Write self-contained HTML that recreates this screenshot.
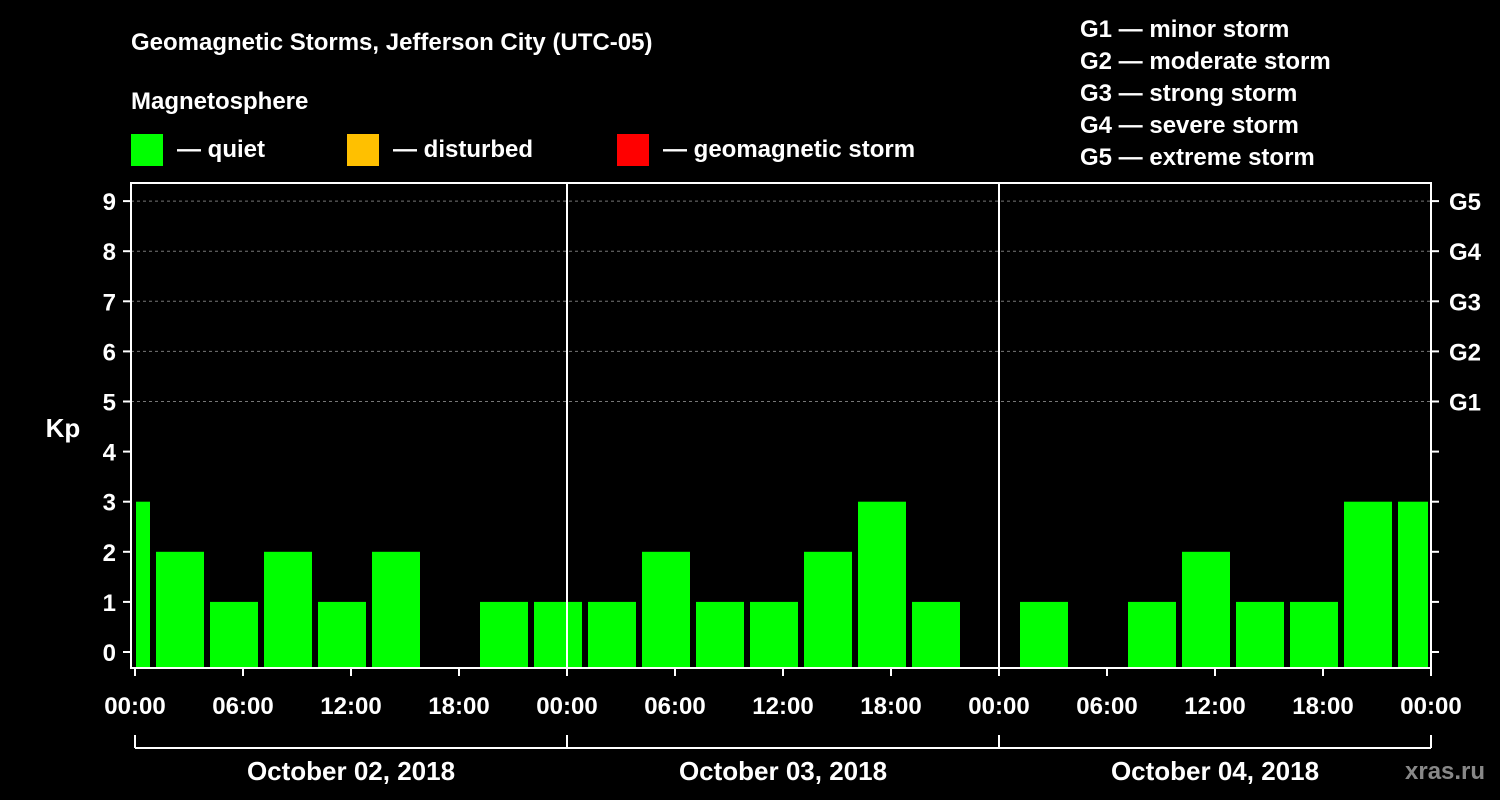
<!DOCTYPE html>
<html><head><meta charset="utf-8"><style>
body{margin:0;background:#000;}
svg{display:block;font-family:"Liberation Sans",Arial,sans-serif;font-weight:bold;}
</style></head><body>
<svg id="chart" width="1500" height="800" viewBox="0 0 1500 800">
<rect width="1500" height="800" fill="#000"/>
<text x="131" y="50" fill="#fff" font-size="24">Geomagnetic Storms, Jefferson City (UTC-05)</text>
<text x="131" y="109" fill="#fff" font-size="24">Magnetosphere</text>
<g><rect x="131" y="134" width="32" height="32" fill="#00ff00"/><text x="177" y="157" fill="#fff" font-size="24">— quiet</text></g>
<g><rect x="347" y="134" width="32" height="32" fill="#ffc000"/><text x="393" y="157" fill="#fff" font-size="24">— disturbed</text></g>
<g><rect x="617" y="134" width="32" height="32" fill="#ff0000"/><text x="663" y="157" fill="#fff" font-size="24">— geomagnetic storm</text></g>
<g fill="#fff" font-size="24">
<text x="1080" y="37">G1 — minor storm</text>
<text x="1080" y="69">G2 — moderate storm</text>
<text x="1080" y="101">G3 — strong storm</text>
<text x="1080" y="133">G4 — severe storm</text>
<text x="1080" y="165">G5 — extreme storm</text>
</g>
<text x="63" y="437" fill="#fff" font-size="26" text-anchor="middle">Kp</text>
<text x="1405" y="779" fill="#888" font-size="24">xras.ru</text>
<g id="grid"></g><g id="bars"></g><g id="axes"></g>
</svg>
<script>
const kpValues=[3,2,1,2,1,2,0,1,1,1,2,1,1,2,3,1,0,1,0,1,2,1,1,3,3];
const firstBlockHour=-2;
const dayLabels=["October 02, 2018","October 03, 2018","October 04, 2018"];
const timeLabels=["00:00","06:00","12:00","18:00"];
const gLabels=["G1","G2","G3","G4","G5"];
const NS="http://www.w3.org/2000/svg";
const X0=135,X1=1431,PT=183,PB=668,totalH=72;
const x=h=>X0+(X1-X0)*h/totalH;
const y=k=>652-k*50.1;
function mk(t,a,p){const e=document.createElementNS(NS,t);for(const k in a)e.setAttribute(k,a[k]);p.appendChild(e);return e;}
const grid=document.getElementById('grid'),bars=document.getElementById('bars'),axes=document.getElementById('axes');
for(let k=5;k<=9;k++){const l=mk('line',{x1:X0-4,x2:X1,y1:y(k),y2:y(k),stroke:'#777','stroke-dasharray':'3,3'},grid);

}
kpValues.forEach((v,i)=>{if(v<=0)return;
let s=x(firstBlockHour+i*3)+3,e=x(firstBlockHour+i*3+3)-3;
s=Math.max(s,X0+1);e=Math.min(e,X1-3);
const r=mk('rect',{x:s,y:y(v),width:e-s,height:PB-y(v),fill:'#00ff00'},bars);

});
mk('rect',{x:131,y:PT,width:X1-131,height:PB-PT,fill:'none',stroke:'#fff','stroke-width':2},axes);
for(let d=1;d<3;d++){const l=mk('line',{x1:x(d*24),x2:x(d*24),y1:PT,y2:PB,stroke:'#fff','stroke-width':2},axes);

}
for(let k=0;k<=9;k++){
mk('line',{x1:123,x2:131,y1:y(k),y2:y(k),stroke:'#fff','stroke-width':2},axes);
mk('line',{x1:X1,x2:X1+8,y1:y(k),y2:y(k),stroke:'#fff','stroke-width':2},axes);
const t=mk('text',{x:116,y:y(k)+9,fill:'#fff','font-size':24,'text-anchor':'end'},axes);t.textContent=k;

}
gLabels.forEach((g,i)=>{const t=mk('text',{x:1449,y:y(5+i)+9,fill:'#fff','font-size':24},axes);t.textContent=g;

});
for(let h=0;h<=totalH;h+=6){mk('line',{x1:x(h),x2:x(h),y1:PB,y2:PB+8,stroke:'#fff','stroke-width':2},axes);
const t=mk('text',{x:x(h),y:714,fill:'#fff','font-size':24,'text-anchor':'middle'},axes);t.textContent=timeLabels[(h/6)%4];

}
mk('line',{x1:X0,x2:X1,y1:748,y2:748,stroke:'#fff','stroke-width':2},axes);
for(let d=0;d<=3;d++)mk('line',{x1:x(d*24),x2:x(d*24),y1:735,y2:748,stroke:'#fff','stroke-width':2},axes);
dayLabels.forEach((s,d)=>{const t=mk('text',{x:x(d*24+12),y:780,fill:'#fff','font-size':26,'text-anchor':'middle'},axes);t.textContent=s;

});
</script>
</body></html>
